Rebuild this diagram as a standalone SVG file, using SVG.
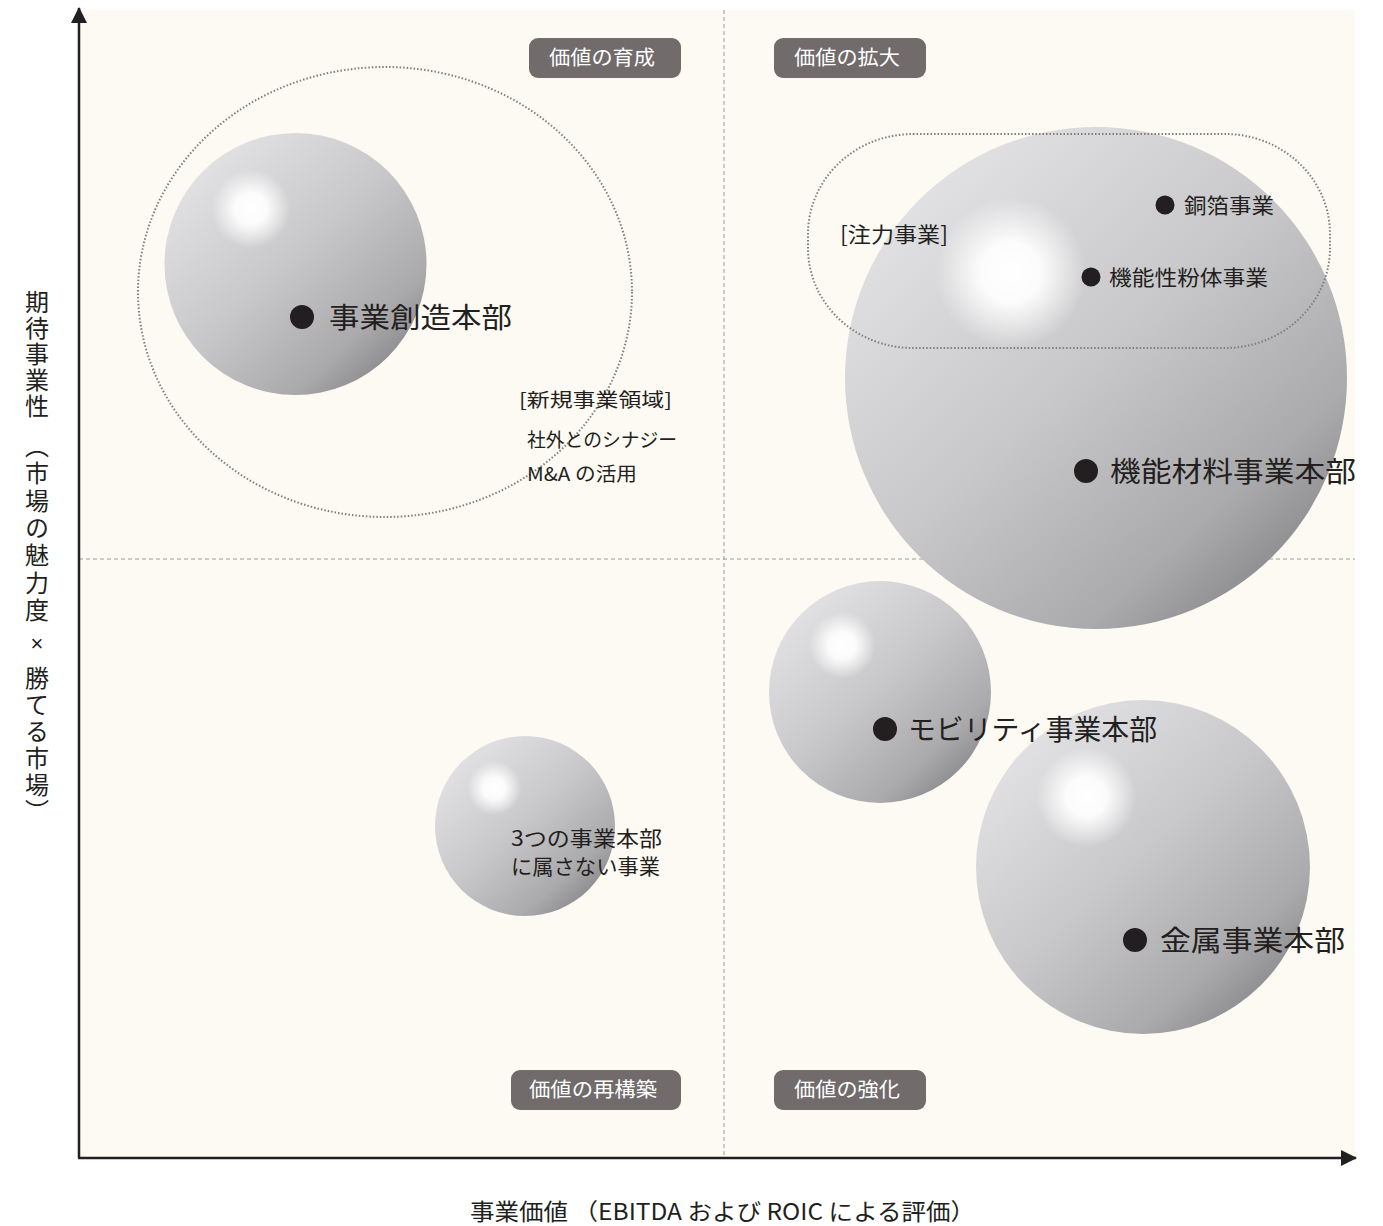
<svg xmlns="http://www.w3.org/2000/svg" width="1383" height="1226" viewBox="0 0 1383 1226">
<style>
.jp{font-family:"Noto Sans CJK JP","Noto Sans",sans-serif;fill:#231f20}
.lbl{font-family:"Noto Sans CJK JP","Noto Sans",sans-serif;fill:#ffffff;font-size:20px}
.tag{fill:#716b6b}
.dash{stroke:#9a9a9a;stroke-width:1;stroke-dasharray:4 3;fill:none}
.dot{stroke:#7e7e7e;stroke-width:2;stroke-dasharray:1.5 2;fill:none}
.axis{stroke:#231f20;stroke-width:2.5;fill:none}
.base{fill:url(#sg)}
.hl{fill:url(#hg)}
.vt{writing-mode:vertical-rl;font-size:24px}
</style>
<defs>
<linearGradient id="sg" x1="0.15" y1="0.1" x2="0.9" y2="0.92">
<stop offset="0" stop-color="#e2e2e4"/>
<stop offset="0.45" stop-color="#c8c8ca"/>
<stop offset="0.8" stop-color="#aaaaac"/>
<stop offset="1" stop-color="#838385"/>
</linearGradient>
<radialGradient id="hg" cx="0.33" cy="0.29" r="0.15">
<stop offset="0" stop-color="#ffffff" stop-opacity="1"/>
<stop offset="0.4" stop-color="#ffffff" stop-opacity="0.92"/>
<stop offset="1" stop-color="#ffffff" stop-opacity="0"/>
</radialGradient>
<marker id="ah" viewBox="0 0 16 16" refX="15" refY="8" markerWidth="16" markerHeight="16" markerUnits="userSpaceOnUse" orient="auto">
<path d="M0,0 L16,8 L0,16 Z" fill="#231f20"/>
</marker>
</defs>
<rect x="0" y="0" width="1383" height="1226" fill="#ffffff"/>
<rect x="79" y="10" width="1276" height="1148" fill="#fdfaf3"/>
<g id="grid">
<line class="dash" x1="724" y1="10" x2="724" y2="1158"/>
<line class="dash" x1="79" y1="559" x2="1355" y2="559"/>
</g>
<g id="sphere-sozo">
<circle class="base" cx="295.5" cy="264" r="131"/>
<circle class="hl" cx="295.5" cy="264" r="131"/>
</g>
<g id="sphere-kino">
<circle class="base" cx="1096" cy="378" r="251"/>
<circle class="hl" cx="1096" cy="378" r="251"/>
</g>
<g id="sphere-mobility">
<circle class="base" cx="880" cy="692" r="111"/>
<circle class="hl" cx="880" cy="692" r="111"/>
</g>
<g id="sphere-kinzoku">
<circle class="base" cx="1143" cy="867" r="167"/>
<circle class="hl" cx="1143" cy="867" r="167"/>
</g>
<g id="sphere-other">
<circle class="base" cx="525" cy="826" r="90"/>
<circle class="hl" cx="525" cy="826" r="90"/>
</g>
<g id="area-new">
<ellipse class="dot" cx="385" cy="292" rx="247" ry="225"/>
<text class="jp" x="519" y="407" font-size="19" textLength="153" lengthAdjust="spacingAndGlyphs">[新規事業領域]</text>
<text class="jp" x="527" y="447" font-size="19" textLength="150" lengthAdjust="spacingAndGlyphs">社外とのシナジー</text>
<text class="jp" x="527" y="481" font-size="19" textLength="110" lengthAdjust="spacingAndGlyphs">M&amp;A の活用</text>
</g>
<g id="area-focus">
<rect class="dot" x="808" y="134" width="522" height="214" rx="105" ry="100"/>
<text class="jp" x="840" y="242" font-size="21" textLength="108" lengthAdjust="spacingAndGlyphs">[注力事業]</text>
<circle cx="1165" cy="205" r="9.5" fill="#231f20"/>
<text class="jp" x="1184" y="213" font-size="21" textLength="90" lengthAdjust="spacingAndGlyphs">銅箔事業</text>
<circle cx="1091" cy="277" r="9.5" fill="#231f20"/>
<text class="jp" x="1109" y="285" font-size="21" textLength="159" lengthAdjust="spacingAndGlyphs">機能性粉体事業</text>
</g>
<g id="label-sozo">
<circle cx="302" cy="317" r="12" fill="#231f20"/>
<text class="jp" x="329" y="328" font-size="28" textLength="183" lengthAdjust="spacingAndGlyphs">事業創造本部</text>
</g>
<g id="label-kino">
<circle cx="1086" cy="471" r="12" fill="#231f20"/>
<text class="jp" x="1110" y="482" font-size="28" textLength="246" lengthAdjust="spacingAndGlyphs">機能材料事業本部</text>
</g>
<g id="label-mobility">
<circle cx="885" cy="729" r="12" fill="#231f20"/>
<text class="jp" x="908" y="740" font-size="28" textLength="249" lengthAdjust="spacingAndGlyphs">モビリティ事業本部</text>
</g>
<g id="label-kinzoku">
<circle cx="1135" cy="940" r="12" fill="#231f20"/>
<text class="jp" x="1160" y="951" font-size="28" textLength="185" lengthAdjust="spacingAndGlyphs">金属事業本部</text>
</g>
<g id="label-other">
<text class="jp" x="511" y="846" font-size="21" textLength="151" lengthAdjust="spacingAndGlyphs">3つの事業本部</text>
<text class="jp" x="511" y="874" font-size="21" textLength="149" lengthAdjust="spacingAndGlyphs">に属さない事業</text>
</g>
<g id="tag-ikusei">
<rect class="tag" x="529" y="38" width="152" height="40" rx="9"/>
<text class="lbl" x="549" y="65" textLength="106" lengthAdjust="spacingAndGlyphs">価値の育成</text>
</g>
<g id="tag-kakudai">
<rect class="tag" x="774" y="38" width="152" height="40" rx="9"/>
<text class="lbl" x="794" y="65" textLength="106" lengthAdjust="spacingAndGlyphs">価値の拡大</text>
</g>
<g id="tag-saikochiku">
<rect class="tag" x="511" y="1070" width="170" height="40" rx="9"/>
<text class="lbl" x="529" y="1097" textLength="128" lengthAdjust="spacingAndGlyphs">価値の再構築</text>
</g>
<g id="tag-kyoka">
<rect class="tag" x="774" y="1070" width="152" height="40" rx="9"/>
<text class="lbl" x="794" y="1097" textLength="106" lengthAdjust="spacingAndGlyphs">価値の強化</text>
</g>
<g id="connectors">
<line class="axis" x1="79" y1="1158" x2="79" y2="8" marker-end="url(#ah)"/>
<line class="axis" x1="78" y1="1158" x2="1356" y2="1158" marker-end="url(#ah)"/>
</g>
<g id="axis-labels" class="jp">
<text class="vt" x="37" y="290" letter-spacing="2">期待事業性</text>
<text class="vt" x="37" y="434" letter-spacing="3.3">（市場の魅力度</text>
<text x="37" y="651" font-size="22" text-anchor="middle" font-family="Liberation Sans, sans-serif">×</text>
<text class="vt" x="37" y="666" letter-spacing="2.6">勝てる市場）</text>
</g>
<text class="jp" x="470" y="1220" font-size="23" textLength="505" lengthAdjust="spacingAndGlyphs">事業価値 （EBITDA および ROIC による評価）</text>
</svg>
